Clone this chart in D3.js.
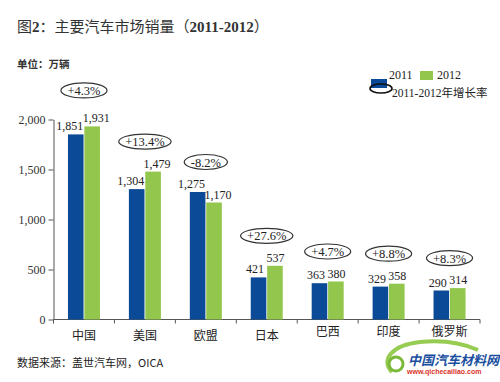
<!DOCTYPE html>
<html><head><meta charset="utf-8">
<script src="https://cdn.jsdelivr.net/npm/d3@7/dist/d3.min.js"></script>
<style>body{margin:0;background:#fff}svg{display:block}</style>
</head><body><div id="c"></div>
<script>
const categories = ["中国","美国","欧盟","日本","巴西","印度","俄罗斯"];
const series = ["2011","2012"];
const sales2011 = [1851,1304,1275,421,363,329,290];
const sales2012 = [1931,1479,1170,537,380,358,314];
const growth = ["+4.3%","+13.4%","-8.2%","+27.6%","+4.7%","+8.8%","+8.3%"];
const yTicks = [0,500,1000,1500,2000];
const colors = {"2011":"#0b4a96","2012":"#93c64c"};

const W=500,H=382;
const svg=d3.select("#c").append("svg").attr("width",W).attr("height",H);
const CJK='"Noto Sans CJK SC","Noto Sans",sans-serif';
const SERIF='"Liberation Serif","DejaVu Serif",serif';

const y=d3.scaleLinear().domain([0,2000]).range([319.5,119.5]);
const x=d3.scaleBand().domain(categories).range([53.5,480]);
const x1=d3.scaleBand().domain(series).range([-16,16]).paddingInner(0.05);

// title
const t=svg.append("text").attr("x",17).attr("y",32).attr("fill","#333").attr("font-size",15).attr("font-family",CJK);
t.append("tspan").text("图");
t.append("tspan").attr("font-family",SERIF).attr("font-weight","bold").text("2");
t.append("tspan").text("：主要汽车市场销量（");
t.append("tspan").attr("font-family",SERIF).attr("font-weight","bold").text("2011-2012");
t.append("tspan").text("）");

svg.append("text").attr("x",17).attr("y",68).attr("font-size",10.5).attr("font-weight","bold")
  .attr("fill","#333").attr("font-family",CJK).text("单位：万辆");

// axes
const ya=svg.append("g").attr("transform","translate(53.5,0)")
  .call(d3.axisLeft(y).tickValues(yTicks).tickSize(5).tickSizeOuter(0).tickFormat(d3.format(",")));
ya.select(".domain").attr("stroke","#555");
ya.selectAll(".tick line").attr("stroke","#555");
ya.selectAll("text").attr("font-family",SERIF).attr("font-size",12).attr("fill","#333").attr("x",-8);

const xa=svg.append("g").attr("transform","translate(0,319.5)");
xa.append("line").attr("x1",53.5).attr("x2",480).attr("stroke","#555");
const bounds=categories.map(c=>x(c)).concat([x.range()[1]]);
xa.selectAll("line.tk").data(bounds).join("line").attr("class","tk")
  .attr("x1",d=>d).attr("x2",d=>d).attr("y1",0).attr("y2",4).attr("stroke","#555");
xa.selectAll("text").data(categories).join("text")
  .attr("x",d=>x(d)+x.bandwidth()/2).attr("y",(d,i)=>i>=4?16:20)
  .attr("text-anchor","middle").attr("font-size",12).attr("fill","#222").attr("font-family",CJK).text(d=>d);

// bars
const rows=categories.map((c,i)=>({c,i,vals:[{s:"2011",v:sales2011[i]},{s:"2012",v:sales2012[i]}]}));
const g=svg.selectAll("g.grp").data(rows).join("g").attr("class","grp")
  .attr("transform",d=>`translate(${x(d.c)+x.bandwidth()/2},0)`);
g.selectAll("rect").data(d=>d.vals).join("rect")
  .attr("x",d=>x1(d.s)).attr("width",x1.bandwidth())
  .attr("y",d=>y(d.v)).attr("height",d=>y(0)-y(d.v)).attr("fill",d=>colors[d.s]);
g.selectAll("text.val").data(d=>d.vals).join("text").attr("class","val")
  .attr("x",d=>{const big=d.v>=1000;return x1(d.s)+x1.bandwidth()/2+(d.s==="2011"?(big?-6:-3.5):(big?4:0.5));})
  .attr("y",d=>y(d.v)-4).attr("text-anchor","middle").attr("font-family",SERIF).attr("font-size",12)
  .attr("fill","#222").text(d=>d3.format(",")(d.v));

// growth ellipses
g.each(function(d){
  const top=y(Math.max(...d.vals.map(v=>v.v)));
  let cy=top-30;
  if(cy-7.5<y(2000)) cy-=6;
  const gg=d3.select(this);
  const tx=gg.append("text").attr("x",0).attr("y",cy+4.5).attr("text-anchor","middle")
    .attr("font-family",SERIF).attr("font-size",12.5).attr("fill","#222").text(growth[d.i]);
  const w=tx.node().getComputedTextLength();
  gg.insert("ellipse","text").attr("cx",0).attr("cy",cy).attr("rx",w/2+6.5).attr("ry",7.5)
    .attr("fill","none").attr("stroke","#333").attr("stroke-width",1.2);
});

// legend
const lg=svg.append("g");
lg.append("rect").attr("x",371).attr("y",79).attr("width",16).attr("height",9).attr("fill",colors["2011"]);
lg.append("ellipse").attr("cx",381).attr("cy",88.5).attr("rx",11).attr("ry",4.5).attr("fill","none").attr("stroke","#111").attr("stroke-width",1.6);
lg.append("text").attr("x",389).attr("y",79).attr("font-family",SERIF).attr("font-size",12).attr("fill","#222").text(series[0]);
lg.append("rect").attr("x",420).attr("y",71).attr("width",13).attr("height",9).attr("fill",colors["2012"]);
lg.append("text").attr("x",437).attr("y",79).attr("font-family",SERIF).attr("font-size",12).attr("fill","#222").text(series[1]);
const lt=lg.append("text").attr("x",392).attr("y",97).attr("font-size",11.5).attr("fill","#222");
lt.append("tspan").attr("font-family",SERIF).text("2011-2012");
lt.append("tspan").attr("font-family",CJK).text("年增长率");

// source
svg.append("text").attr("x",17).attr("y",367).attr("font-size",11).attr("fill","#222").attr("font-family",CJK).text("数据来源：盖世汽车网，OICA");

// watermark
const wm=svg.append("g");
wm.append("path").attr("d","M392,372 C380,360 392,345 420,342 C440,340 460,342 478,350").attr("fill","none").attr("stroke","#8cc63f").attr("stroke-width",4).attr("opacity",0.9);
wm.append("circle").attr("cx",396).attr("cy",364).attr("r",7).attr("fill","none").attr("stroke","#7ab839").attr("stroke-width",3);
wm.append("text").attr("x",408).attr("y",365).attr("font-size",13).attr("font-weight","bold").attr("font-style","italic").attr("fill","#1a4fa0").attr("font-family",CJK).text("中国汽车材料网");
wm.append("text").attr("x",407).attr("y",374).attr("font-size",7).attr("font-weight","bold").attr("fill","#d9322a").attr("font-family","Arial,sans-serif").text("www.qichecailiao.com");
</script></body></html>
